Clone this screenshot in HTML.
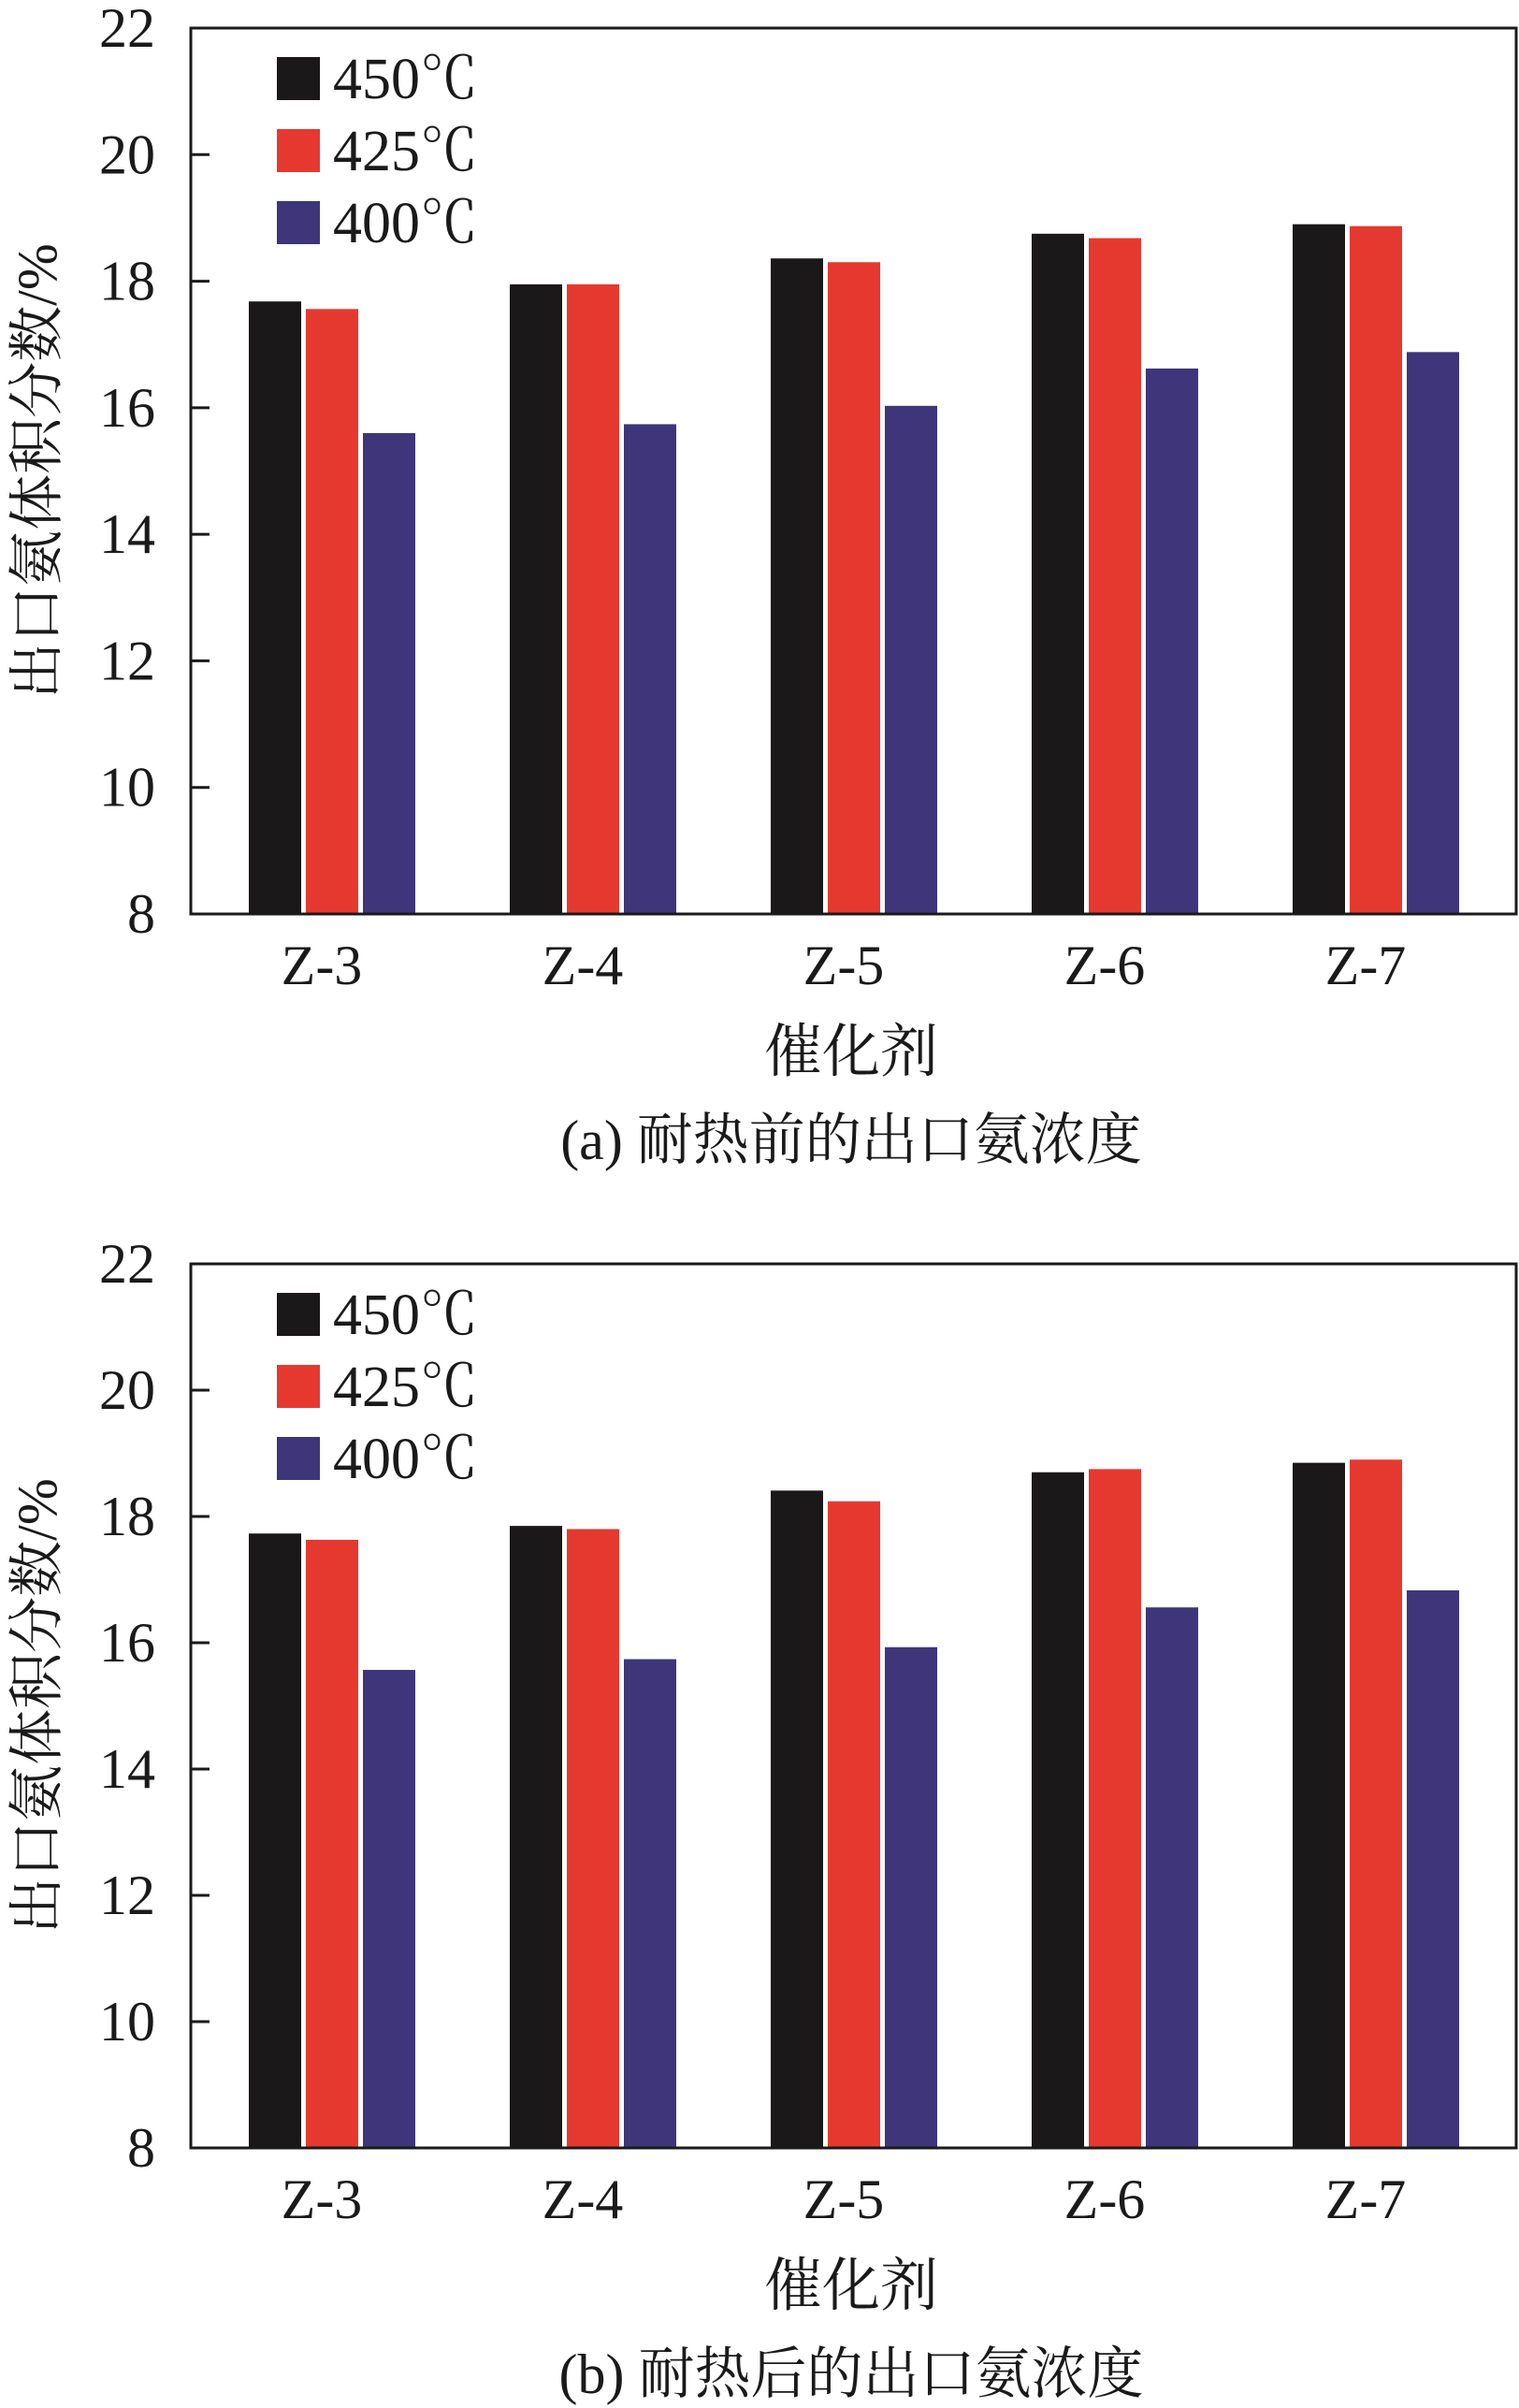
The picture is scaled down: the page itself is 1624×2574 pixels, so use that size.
<!DOCTYPE html>
<html><head><meta charset="utf-8">
<style>
html,body{margin:0;padding:0;background:#fff;}
svg{display:block;}
text{font-family:"Liberation Serif","Noto Serif CJK SC","Noto Sans CJK SC",serif;fill:#1a1a1a;}
</style></head>
<body>
<svg id="chart" width="1624" height="2574" viewBox="0 0 1624 2574" xmlns="http://www.w3.org/2000/svg"></svg>
<script>
const categories = ["Z-3","Z-4","Z-5","Z-6","Z-7"];
const seriesNames = ["450℃","425℃","400℃"];
const seriesColors = ["#1a1818","#e5392f","#3e357a"];
const before450 = [17.68,17.95,18.36,18.75,18.9];
const before425 = [17.56,17.95,18.3,18.68,18.87];
const before400 = [15.6,15.74,16.03,16.62,16.88];
const after450 = [17.73,17.85,18.41,18.7,18.85];
const after425 = [17.63,17.8,18.24,18.75,18.9];
const after400 = [15.57,15.74,15.93,16.56,16.83];
const yTicks = [8,10,12,14,16,18,20,22];
const captions = ["(a) 耐热前的出口氨浓度","(b) 耐热后的出口氨浓度"];

const svg = document.getElementById('chart');
const NS = "http://www.w3.org/2000/svg";
function mk(tag, attrs, parent){const e=document.createElementNS(NS,tag);for(const k in attrs)e.setAttribute(k,attrs[k]);(parent||svg).appendChild(e);return e;}

function drawPanel(top, bottom, series, caption, idx){
  const g = mk('g',{});
  
  
  const left=204, right=1621;
  const yMin=8, yMax=22;
  const y = v => bottom - (v - yMin) * (bottom - top) / (yMax - yMin);
  const x0 = 355, groupStep = 279, barStep = 61, barW = 56;
  const xc = i => x0 + i*groupStep;
  series.forEach((vals, s) => {
    vals.forEach((v, i) => {
      const cx = xc(i) + (s-1)*barStep;
      const r = mk('rect',{x:cx-barW/2, y:y(v), width:barW, height:bottom-y(v), fill:seriesColors[s]}, g);
      
      
    });
  });
  const f = mk('rect',{x:left,y:top,width:right-left,height:bottom-top,fill:'none',stroke:'#1a1a1a','stroke-width':3}, g);
  
  
  yTicks.forEach(t => {
    const yy = y(t);
    if (t>yMin && t<yMax) mk('line',{x1:left,x2:left+20,y1:yy,y2:yy,stroke:'#1a1a1a','stroke-width':3}, g);
    const tl = mk('text',{x:166,y:yy+20,'font-size':60,'text-anchor':'end'}, g);
    tl.textContent = t;
    
    
  });
  categories.forEach((c,i) => {
    const tl = mk('text',{x:xc(i)-11,y:bottom+75,'font-size':60,'text-anchor':'middle'}, g);
    tl.textContent = c;
    
    
  });
  const xt = mk('text',{x:910,y:bottom+168,'font-size':62,'text-anchor':'middle'}, g);
  xt.textContent = '催化剂';
  
  
  const cp = mk('text',{x:910,y:bottom+262,'font-size':60,'text-anchor':'middle'}, g);
  cp.textContent = caption;
  
  
  const mid = (top+bottom)/2;
  const yt = mk('text',{x:0,y:0,'font-size':60,'text-anchor':'middle',transform:'translate(60,'+mid+') rotate(-90)'}, g);
  yt.textContent = '出口氨体积分数/%';
  
  
  seriesNames.forEach((n,s) => {
    const ly = top + 31 + s*77;
    const sw = mk('rect',{x:296,y:ly,width:46,height:46,fill:seriesColors[s]}, g);
    
    
    const lt = mk('text',{x:356,y:ly+44,'font-size':62}, g);
    lt.textContent = n;
    
    
  });
}
drawPanel(30, 977, [before450,before425,before400], captions[0], 0);
drawPanel(1351, 2296, [after450,after425,after400], captions[1], 1);
</script>
</body></html>
